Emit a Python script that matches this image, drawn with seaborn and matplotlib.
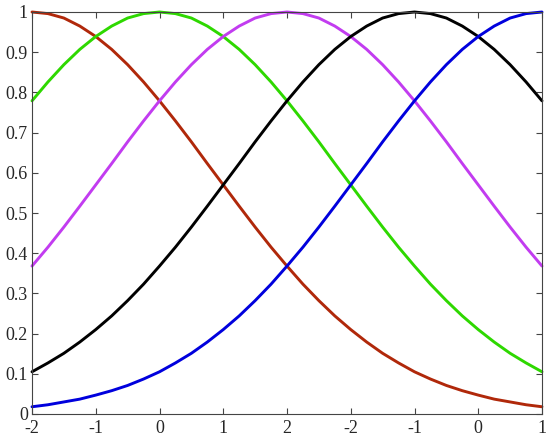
import matplotlib
matplotlib.use("Agg")
import matplotlib.pyplot as plt
import seaborn as sns
import pandas as pd

x_pos = [i * 0.25 for i in range(33)]
x_tick_pos = [0, 1, 2, 3, 4, 5, 6, 7, 8]
x_tick_labels = ["-2", "-1", "0", "1", "2", "-2", "-1", "0", "1"]
y_ticks = [0, 0.1, 0.2, 0.3, 0.4, 0.5, 0.6, 0.7, 0.8, 0.9, 1]
y_tick_labels = ["0", "0.1", "0.2", "0.3", "0.4", "0.5", "0.6", "0.7", "0.8", "0.9", "1"]

red = [1.000, 0.996, 0.985, 0.965, 0.939, 0.907, 0.869, 0.826, 0.779, 0.729, 0.677,
       0.623, 0.570, 0.517, 0.465, 0.415, 0.368, 0.323, 0.282, 0.244, 0.210, 0.179,
       0.151, 0.127, 0.105, 0.087, 0.071, 0.058, 0.047, 0.037, 0.030, 0.023, 0.018]
green = [0.779, 0.826, 0.869, 0.907, 0.939, 0.965, 0.985, 0.996, 1.000,
         0.996, 0.985, 0.965, 0.939, 0.907, 0.869, 0.826, 0.779, 0.729, 0.677, 0.623,
         0.570, 0.517, 0.465, 0.415, 0.368, 0.323, 0.282, 0.244, 0.210, 0.179, 0.151,
         0.127, 0.105]
magenta = [0.368, 0.415, 0.465, 0.517, 0.570, 0.623, 0.677, 0.729, 0.779, 0.826, 0.869,
           0.907, 0.939, 0.965, 0.985, 0.996, 1.000,
           0.996, 0.985, 0.965, 0.939, 0.907, 0.869, 0.826, 0.779, 0.729, 0.677, 0.623,
           0.570, 0.517, 0.465, 0.415, 0.368]
black = [0.105, 0.127, 0.151, 0.179, 0.210, 0.244, 0.282, 0.323, 0.368, 0.415, 0.465,
         0.517, 0.570, 0.623, 0.677, 0.729, 0.779, 0.826, 0.869, 0.907, 0.939, 0.965,
         0.985, 0.996, 1.000,
         0.996, 0.985, 0.965, 0.939, 0.907, 0.869, 0.826, 0.779]
blue = [0.018, 0.023, 0.030, 0.037, 0.047, 0.058, 0.071, 0.087, 0.105, 0.127, 0.151,
        0.179, 0.210, 0.244, 0.282, 0.323, 0.368, 0.415, 0.465, 0.517, 0.570, 0.623,
        0.677, 0.729, 0.779, 0.826, 0.869, 0.907, 0.939, 0.965, 0.985, 0.996, 1.000]

series_names = ["red", "green", "magenta", "black", "blue"]
series_values = [red, green, magenta, black, blue]
colors = {"red": "#b0280a", "green": "#2ed800", "magenta": "#c23cf0",
          "black": "#000000", "blue": "#0000dd"}

rows = []
for name, vals in zip(series_names, series_values):
    for xv, yv in zip(x_pos, vals):
        rows.append({"x": xv, "y": yv, "curve": name})
df = pd.DataFrame(rows)

sns.set_style("ticks")
plt.rcParams["font.family"] = ["Liberation Serif", "DejaVu Serif"]

fig = plt.figure(figsize=(5.5, 4.42), dpi=100)
ax = fig.add_axes([32 / 550, 28 / 442, 510 / 550, 402 / 442])
sns.lineplot(data=df, x="x", y="y", hue="curve", hue_order=series_names,
             palette=colors, linewidth=2.1, legend=False, ax=ax, sort=False)
for line in ax.get_lines():
    line.set_solid_joinstyle("round")
    line.set_clip_on(False)

ax.set_xlim(0, 8)
ax.set_ylim(0, 1)
ax.set_xticks(x_tick_pos)
ax.set_xticklabels(x_tick_labels)
ax.set_yticks(y_ticks)
ax.set_yticklabels(y_tick_labels)
ax.set_xlabel("")
ax.set_ylabel("")
for s in ax.spines.values():
    s.set_visible(True)
    s.set_color("#444444")
    s.set_linewidth(0.8)
ax.tick_params(direction="in", top=True, right=True, length=4, width=0.8,
               color="#444444", labelsize=13)
ax.tick_params(axis="x", pad=4)
ax.tick_params(axis="y", pad=3)
fig.savefig("out.png", dpi=100)
